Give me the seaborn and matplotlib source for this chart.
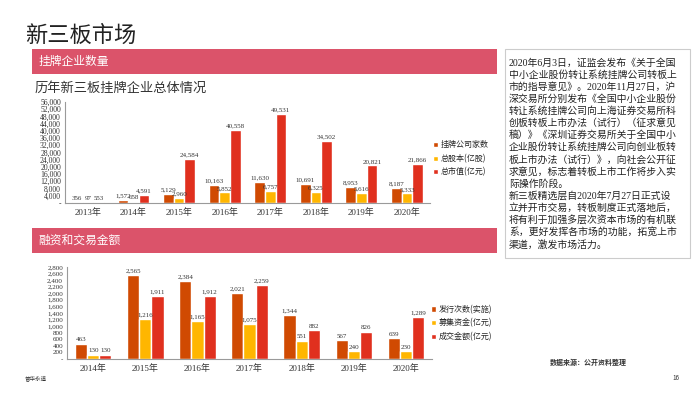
import pandas as pd
import numpy as np
import seaborn as sns
import matplotlib.pyplot as plt
from matplotlib.patches import Rectangle
from matplotlib.ticker import FuncFormatter, FixedLocator

# 挂牌企业数量
years_top = ['2013年', '2014年', '2015年', '2016年', '2017年', '2018年', '2019年', '2020年']
companies = [356, 1572, 5129, 10163, 11630, 10691, 8953, 8187]
shares = [97, 658, 2960, 5852, 6757, 6325, 5616, 5333]
mcap = [553, 4591, 24584, 40558, 49531, 34502, 20821, 21866]
series_top = ['挂牌公司家数', '总股本(亿股)', '总市值(亿元)']

# 融资和交易金额
years_bot = ['2014年', '2015年', '2016年', '2017年', '2018年', '2019年', '2020年']
issues = [463, 2565, 2384, 2021, 1344, 567, 639]
raised = [130, 1216, 1165, 1075, 551, 240, 230]
turnover = [130, 1911, 1912, 2259, 882, 826, 1289]
series_bot = ['发行次数(实施)', '募集资金(亿元)', '成交金额(亿元)']

note = ('2020年6月3日，证监会发布《关于全国\n'
        '中小企业股份转让系统挂牌公司转板上\n'
        '市的指导意见》。2020年11月27日，沪\n'
        '深交易所分别发布《全国中小企业股份\n'
        '转让系统挂牌公司向上海证券交易所科\n'
        '创板转板上市办法（试行）（征求意见\n'
        '稿）》《深圳证券交易所关于全国中小\n'
        '企业股份转让系统挂牌公司向创业板转\n'
        '板上市办法（试行）》，向社会公开征\n'
        '求意见，标志着转板上市工作将步入实\n'
        '际操作阶段。\n'
        '新三板精选层自2020年7月27日正式设\n'
        '立并开市交易，转板制度正式落地后，\n'
        '将有利于加强多层次资本市场的有机联\n'
        '系，更好发挥各市场的功能，拓宽上市\n'
        '渠道，激发市场活力。')

colors = ['#D04A02', '#FFB600', '#E0301E']
pink = '#DB536A'

sns.set_style('white')
plt.rcParams['font.family'] = ['Liberation Serif', 'Noto Sans CJK SC']
serif = ['Liberation Serif', 'Noto Sans CJK SC']
sans = ['Noto Sans CJK SC', 'DejaVu Sans']

df_top = pd.DataFrame({
    'year': years_top * 3,
    'series': [s for s in series_top for _ in years_top],
    'value': companies + shares + mcap,
})
df_bot = pd.DataFrame({
    'year': years_bot * 3,
    'series': [s for s in series_bot for _ in years_bot],
    'value': issues + raised + turnover,
})

fig = plt.figure(figsize=(7, 3.94), dpi=100)

# title and banners
fig.text(0.036, 0.911, '新三板市场', fontsize=16, family=sans, fontweight='light',
         va='center', color='#222222')
for y0, label in [(0.812, '挂牌企业数量'), (0.358, '融资和交易金额')]:
    fig.patches.append(Rectangle((0.046, y0), 0.664, 0.0635, transform=fig.transFigure,
                                 facecolor=pink, edgecolor='none'))
    fig.text(0.055, y0 + 0.032, label, fontsize=8.5, family=sans, color='white',
             va='center')
fig.text(0.05, 0.777, '历年新三板挂牌企业总体情况', fontsize=9.5, family=sans,
         va='center', color='#333333')


def thousands(v, pos):
    return '-' if v == 0 else f'{v:,.0f}'


def draw(ax, df, years, series, ymax, step, leg_xy, ysize):
    sns.barplot(data=df, x='year', y='value', hue='series', palette=colors,
                saturation=1, width=0.7, errorbar=None, ax=ax)
    for cont in ax.containers:
        ax.bar_label(cont, labels=[f'{b.get_height():,.0f}' for b in cont],
                     fontsize=5, padding=1, color='#333333')
    ax.set_ylim(0, ymax)
    ax.set_xlim(-0.5, len(years) - 0.5)
    ax.set_yticks(np.arange(0, ymax + 1, step))
    ax.yaxis.set_major_formatter(FuncFormatter(thousands))
    ax.set_xlabel('')
    ax.set_ylabel('')
    sns.despine(ax=ax)
    for s in ['left', 'bottom']:
        ax.spines[s].set_color('#9a9a9a')
        ax.spines[s].set_linewidth(0.8)
    ax.tick_params(axis='y', length=2, width=0.6, color='#9a9a9a', labelsize=ysize,
                   labelcolor='#333333', pad=1)
    ax.tick_params(axis='x', which='major', length=0, labelsize=6.5,
                   labelcolor='#333333', pad=4)
    ax.xaxis.set_minor_locator(FixedLocator(np.arange(-0.5, len(years), 1.0)))
    ax.tick_params(axis='x', which='minor', length=3, width=0.6, color='#9a9a9a')
    handles, labels = ax.get_legend_handles_labels()
    ax.legend(handles, labels, loc='upper left', bbox_to_anchor=leg_xy,
              bbox_transform=fig.transFigure, frameon=False,
              handlelength=0.6, handleheight=0.6, handletextpad=0.4,
              labelspacing=0.55, prop={'family': sans, 'size': 5.8})


ax1 = fig.add_axes([0.093, 0.485, 0.521, 0.256])
draw(ax1, df_top, years_top, series_top, 56000, 4000, (0.608, 0.662), 5.5)

ax2 = fig.add_axes([0.096, 0.089, 0.521, 0.2335])
draw(ax2, df_bot, years_bot, series_bot, 2800, 200, (0.605, 0.245), 5)

# note box
fig.patches.append(Rectangle((0.721, 0.345), 0.265, 0.53, transform=fig.transFigure,
                             facecolor='white', edgecolor='#cccccc', linewidth=0.8))
fig.text(0.727, 0.853, note, fontsize=7.1, family=serif, va='top', ha='left',
         linespacing=1.3, color='#222222')

# footers
fig.text(0.785, 0.081, '数据来源：公开资料整理', fontsize=5, family=sans,
         fontweight='bold', va='center', color='#333333')
fig.text(0.036, 0.04, '普华永道', fontsize=4, family=sans, va='center', color='#333333')
fig.text(0.96, 0.04, '16', fontsize=4.5, family=sans, va='center', color='#333333')

fig.savefig('out.png', dpi=100)
